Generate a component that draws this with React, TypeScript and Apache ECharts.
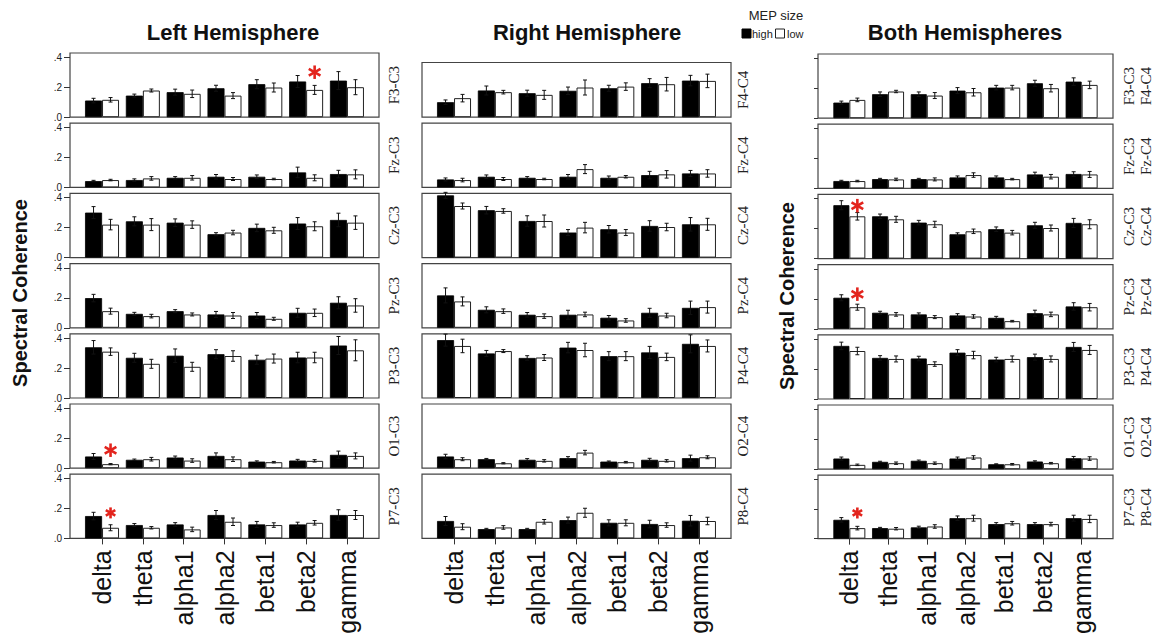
import React, { useEffect, useRef } from 'react';
import * as echarts from 'echarts';

// ---------------- data ----------------
const categories = ['delta', 'theta', 'alpha1', 'alpha2', 'beta1', 'beta2', 'gamma'];
const panelTitles = ['Left Hemisphere', 'Right Hemisphere', 'Both Hemispheres'];
const leftRows = ['F3-C3', 'Fz-C3', 'Cz-C3', 'Pz-C3', 'P3-C3', 'O1-C3', 'P7-C3'];
const rightRows = ['F4-C4', 'Fz-C4', 'Cz-C4', 'Pz-C4', 'P4-C4', 'O2-C4', 'P8-C4'];
const yTicks = [0, 0.2, 0.4];
const yTickLabels = ['.0', '.2', '.4'];
const seriesNames = ['high', 'low'];

const leftHigh = [
  [0.111, 0.144, 0.167, 0.193, 0.220, 0.238, 0.244],
  [0.042, 0.049, 0.064, 0.071, 0.071, 0.100, 0.089],
  [0.300, 0.242, 0.233, 0.156, 0.198, 0.227, 0.251],
  [0.198, 0.093, 0.111, 0.089, 0.082, 0.100, 0.167],
  [0.338, 0.268, 0.282, 0.292, 0.255, 0.270, 0.350],
  [0.078, 0.056, 0.071, 0.082, 0.044, 0.051, 0.089],
  [0.149, 0.089, 0.093, 0.156, 0.093, 0.093, 0.156],
];
const leftHighErr = [
  [0.015, 0.010, 0.020, 0.020, 0.030, 0.040, 0.060],
  [0.005, 0.008, 0.008, 0.015, 0.012, 0.035, 0.025],
  [0.040, 0.030, 0.025, 0.010, 0.025, 0.040, 0.045],
  [0.025, 0.010, 0.010, 0.020, 0.020, 0.030, 0.040],
  [0.045, 0.030, 0.045, 0.030, 0.030, 0.035, 0.060],
  [0.020, 0.005, 0.010, 0.020, 0.005, 0.008, 0.025],
  [0.025, 0.010, 0.012, 0.030, 0.020, 0.015, 0.035],
];
const leftLow = [
  [0.116, 0.178, 0.156, 0.144, 0.198, 0.182, 0.200],
  [0.049, 0.060, 0.064, 0.056, 0.056, 0.064, 0.087],
  [0.220, 0.220, 0.220, 0.167, 0.182, 0.209, 0.233],
  [0.111, 0.078, 0.089, 0.082, 0.060, 0.100, 0.149],
  [0.309, 0.228, 0.208, 0.280, 0.263, 0.270, 0.318],
  [0.027, 0.060, 0.051, 0.060, 0.040, 0.049, 0.082],
  [0.071, 0.071, 0.060, 0.111, 0.089, 0.104, 0.156],
];
const leftLowErr = [
  [0.015, 0.010, 0.025, 0.020, 0.030, 0.030, 0.050],
  [0.005, 0.012, 0.015, 0.010, 0.005, 0.020, 0.030],
  [0.035, 0.040, 0.025, 0.015, 0.020, 0.030, 0.045],
  [0.020, 0.012, 0.010, 0.020, 0.010, 0.025, 0.045],
  [0.025, 0.030, 0.030, 0.035, 0.030, 0.035, 0.070],
  [0.004, 0.012, 0.012, 0.015, 0.005, 0.008, 0.020],
  [0.020, 0.008, 0.015, 0.025, 0.015, 0.015, 0.030],
];

const rightHigh = [
  [0.100, 0.178, 0.160, 0.176, 0.193, 0.227, 0.244],
  [0.053, 0.071, 0.064, 0.071, 0.064, 0.082, 0.093],
  [0.415, 0.316, 0.244, 0.167, 0.189, 0.211, 0.222],
  [0.216, 0.120, 0.087, 0.087, 0.067, 0.100, 0.133],
  [0.386, 0.297, 0.267, 0.336, 0.279, 0.304, 0.361],
  [0.078, 0.060, 0.056, 0.067, 0.044, 0.056, 0.067],
  [0.116, 0.062, 0.062, 0.122, 0.104, 0.096, 0.118],
];
const rightHighErr = [
  [0.015, 0.030, 0.020, 0.025, 0.020, 0.030, 0.035],
  [0.010, 0.012, 0.008, 0.015, 0.012, 0.025, 0.020],
  [0.020, 0.025, 0.035, 0.020, 0.025, 0.035, 0.045],
  [0.050, 0.020, 0.015, 0.030, 0.015, 0.030, 0.045],
  [0.040, 0.020, 0.015, 0.035, 0.030, 0.040, 0.060],
  [0.015, 0.005, 0.008, 0.010, 0.004, 0.010, 0.020],
  [0.030, 0.005, 0.005, 0.020, 0.020, 0.025, 0.035],
];
const rightLow = [
  [0.127, 0.167, 0.149, 0.198, 0.204, 0.220, 0.242],
  [0.049, 0.056, 0.056, 0.122, 0.071, 0.087, 0.093],
  [0.344, 0.311, 0.244, 0.200, 0.167, 0.204, 0.222],
  [0.176, 0.111, 0.078, 0.089, 0.049, 0.082, 0.138],
  [0.347, 0.313, 0.270, 0.320, 0.279, 0.274, 0.347],
  [0.060, 0.033, 0.049, 0.104, 0.040, 0.049, 0.073],
  [0.078, 0.073, 0.111, 0.171, 0.104, 0.089, 0.116],
];
const rightLowErr = [
  [0.025, 0.012, 0.030, 0.050, 0.025, 0.045, 0.045],
  [0.012, 0.010, 0.005, 0.030, 0.008, 0.025, 0.025],
  [0.020, 0.015, 0.040, 0.035, 0.020, 0.025, 0.040],
  [0.030, 0.015, 0.015, 0.015, 0.012, 0.015, 0.040],
  [0.045, 0.010, 0.020, 0.045, 0.030, 0.025, 0.040],
  [0.010, 0.004, 0.008, 0.015, 0.005, 0.008, 0.010],
  [0.020, 0.012, 0.015, 0.030, 0.020, 0.015, 0.025],
];

const bothHigh = [
  [0.104, 0.160, 0.160, 0.184, 0.204, 0.233, 0.244],
  [0.049, 0.062, 0.062, 0.073, 0.073, 0.093, 0.096],
  [0.356, 0.282, 0.240, 0.162, 0.196, 0.222, 0.238],
  [0.207, 0.107, 0.096, 0.089, 0.073, 0.104, 0.149],
  [0.354, 0.274, 0.270, 0.309, 0.263, 0.279, 0.347],
  [0.071, 0.049, 0.056, 0.071, 0.033, 0.051, 0.073],
  [0.127, 0.071, 0.076, 0.138, 0.098, 0.098, 0.138],
];
const bothHighErr = [
  [0.010, 0.015, 0.015, 0.020, 0.015, 0.020, 0.025],
  [0.005, 0.005, 0.005, 0.010, 0.010, 0.015, 0.015],
  [0.030, 0.015, 0.015, 0.010, 0.015, 0.020, 0.030],
  [0.020, 0.010, 0.010, 0.012, 0.010, 0.020, 0.025],
  [0.025, 0.015, 0.015, 0.020, 0.015, 0.020, 0.030],
  [0.010, 0.004, 0.005, 0.010, 0.003, 0.005, 0.012],
  [0.015, 0.005, 0.008, 0.015, 0.010, 0.010, 0.020],
];
const bothLow = [
  [0.122, 0.178, 0.151, 0.173, 0.204, 0.200, 0.222],
  [0.049, 0.060, 0.060, 0.089, 0.062, 0.078, 0.093],
  [0.282, 0.262, 0.229, 0.182, 0.173, 0.204, 0.229],
  [0.144, 0.096, 0.078, 0.082, 0.051, 0.096, 0.144],
  [0.320, 0.267, 0.233, 0.293, 0.267, 0.267, 0.327],
  [0.029, 0.040, 0.040, 0.078, 0.033, 0.040, 0.071],
  [0.071, 0.067, 0.082, 0.138, 0.104, 0.098, 0.133],
];
const bothLowErr = [
  [0.012, 0.008, 0.020, 0.025, 0.015, 0.025, 0.025],
  [0.005, 0.008, 0.010, 0.015, 0.005, 0.015, 0.020],
  [0.025, 0.020, 0.020, 0.015, 0.015, 0.020, 0.030],
  [0.020, 0.012, 0.010, 0.012, 0.005, 0.015, 0.025],
  [0.025, 0.020, 0.015, 0.025, 0.020, 0.020, 0.030],
  [0.005, 0.008, 0.008, 0.012, 0.005, 0.005, 0.012],
  [0.012, 0.008, 0.012, 0.020, 0.012, 0.012, 0.025],
];

// significance marks: [panel, row, category index, y value]
const asteriskMarks = [
  [0, 0, 5, 0.30],
  [0, 5, 0, 0.12],
  [0, 6, 0, 0.17],
  [2, 2, 0, 0.353],
  [2, 3, 0, 0.231],
  [2, 6, 0, 0.173],
];

// ---------------- layout & style ----------------
const W = 1153;
const H = 637;
const panelX = [70, 422, 818];
const panelW = [309, 309, 295];
const panelTop = [53, 53, 54];
const barW = [17, 17, 16];
const xPad = [0.785, 0.785, 0.81];
const rowPitch = 70.2;
const rowH = 64.2;
const pxPerUnit = 150;
const rightFirstRowTop = 62.5;
const FONT = 'Liberation Sans';

const panelData = [
  { high: leftHigh, highErr: leftHighErr, low: leftLow, lowErr: leftLowErr },
  { high: rightHigh, highErr: rightHighErr, low: rightLow, lowErr: rightLowErr },
  { high: bothHigh, highErr: bothHighErr, low: bothLow, lowErr: bothLowErr },
];

function buildOption() {
  const grid: any[] = [];
  const xAxis: any[] = [];
  const yAxis: any[] = [];
  const series: any[] = [];
  const graphic: any[] = [];
  const catIdx = categories.map((_, i) => i);

  for (let p = 0; p < 3; p++) {
    const d = panelData[p];
    const bw = barW[p];
    for (let r = 0; r < 7; r++) {
      let top = panelTop[p] + rowPitch * r;
      let height = rowH;
      if (p === 1 && r === 0) {
        height = top + rowH - rightFirstRowTop;
        top = rightFirstRowTop;
      }
      const ymax = height / pxPerUnit;
      const k = grid.length;
      const isBottom = r === 6;
      const visTicks = yTicks.filter((t) => t <= ymax);
      grid.push({
        left: panelX[p],
        top,
        width: panelW[p],
        height,
        show: true,
        borderColor: '#444',
        borderWidth: 1.2,
        backgroundColor: 'transparent',
      });
      xAxis.push({
        type: 'value',
        gridIndex: k,
        min: -xPad[p],
        max: 6 + xPad[p],
        axisLine: { show: false, onZero: false },
        splitLine: { show: false },
        axisTick: {
          show: isBottom,
          customValues: catIdx,
          length: 6,
          lineStyle: { color: '#333', width: 1 },
        },
        axisLabel: {
          show: isBottom,
          customValues: catIdx,
          formatter: (v: number) => categories[Math.round(v)] ?? '',
          rotate: 90,
          fontSize: 25,
          fontFamily: FONT,
          color: '#111',
          margin: 12,
        },
      });
      yAxis.push({
        type: 'value',
        gridIndex: k,
        min: 0,
        max: ymax,
        axisLine: { show: false, onZero: false },
        splitLine: { show: false },
        axisTick: {
          show: p !== 1,
          customValues: visTicks,
          length: p === 0 ? 6 : 4,
          lineStyle: { color: '#333', width: 1 },
        },
        axisLabel: {
          show: p === 0,
          customValues: visTicks,
          formatter: (v: number) => {
            const i = yTicks.findIndex((t) => Math.abs(t - v) < 1e-6);
            return i >= 0 ? yTickLabels[i] : '';
          },
          fontSize: 10,
          fontFamily: FONT,
          color: '#222',
          margin: 8,
        },
      });

      const sets = [
        { vals: d.high[r], errs: d.highErr[r], side: -1 },
        { vals: d.low[r], errs: d.lowErr[r], side: 1 },
      ];
      sets.forEach((s, si) => {
        series.push({
          type: 'bar',
          name: seriesNames[si],
          xAxisIndex: k,
          yAxisIndex: k,
          barWidth: bw,
          barGap: '0%',
          data: catIdx.map((i) => [i, s.vals[i]]),
          itemStyle:
            si === 0
              ? { color: '#000', borderColor: '#000', borderWidth: 0.8 }
              : { color: '#fff', borderColor: '#222', borderWidth: 1 },
          silent: true,
          z: 2,
        });
      });
      series.push({
        type: 'custom',
        xAxisIndex: k,
        yAxisIndex: k,
        silent: true,
        z: 3,
        data: sets.flatMap((s) => catIdx.map((i) => [i, s.vals[i], s.errs[i], s.side])),
        renderItem: (params: any, api: any) => {
          const x = api.value(0);
          const v = api.value(1);
          const e = api.value(2);
          const side = api.value(3);
          const t = api.coord([x, v + e]);
          const b = api.coord([x, Math.max(0, v - e)]);
          const cx = t[0] + (side * bw) / 2;
          const st = { stroke: '#111', lineWidth: 1 };
          return {
            type: 'group',
            children: [
              { type: 'line', shape: { x1: cx, y1: t[1], x2: cx, y2: b[1] }, style: st },
              { type: 'line', shape: { x1: cx - 2, y1: t[1], x2: cx + 2, y2: t[1] }, style: st },
              { type: 'line', shape: { x1: cx - 2, y1: b[1], x2: cx + 2, y2: b[1] }, style: st },
            ],
          };
        },
      });

      const marks = asteriskMarks.filter((m) => m[0] === p && m[1] === r);
      if (marks.length) {
        const size = r === 6 ? 11 : 13.5;
        series.push({
          type: 'custom',
          xAxisIndex: k,
          yAxisIndex: k,
          silent: true,
          z: 4,
          data: marks.map((m) => [m[2], m[3]]),
          renderItem: (params: any, api: any) => {
            const c = api.coord([api.value(0), api.value(1)]);
            const cx = c[0] + bw / 2;
            const cy = c[1];
            const rr = size / 2;
            const st = { stroke: '#e3241d', lineWidth: 2.6, lineCap: 'butt' };
            const ang = [Math.PI / 2, Math.PI / 6, -Math.PI / 6];
            return {
              type: 'group',
              children: ang.map((a) => ({
                type: 'line',
                shape: {
                  x1: cx - rr * Math.cos(a),
                  y1: cy - rr * Math.sin(a),
                  x2: cx + rr * Math.cos(a),
                  y2: cy + rr * Math.sin(a),
                },
                style: st,
              })),
            };
          },
        });
      }

      // row labels
      const cy = top + height / 2;
      if (p === 0) {
        graphic.push(rowLabel(leftRows[r], 394, cy));
      } else if (p === 1) {
        graphic.push(rowLabel(rightRows[r], 743, cy));
      } else {
        graphic.push(rowLabel(leftRows[r], 1129, cy));
        graphic.push(rowLabel(rightRows[r], 1146, cy));
      }
    }
  }

  // titles
  const titleX = [233, 587, 965];
  panelTitles.forEach((t, i) => {
    graphic.push({
      type: 'text',
      x: titleX[i],
      y: 32,
      style: {
        text: t,
        fontFamily: FONT,
        fontSize: 22,
        fontWeight: 'bold',
        fill: '#111',
        align: 'center',
        verticalAlign: 'middle',
      },
    });
  });

  // y-axis names
  [
    [20, 293],
    [787, 296],
  ].forEach(([x, y]) => {
    graphic.push({
      type: 'text',
      x,
      y,
      rotation: Math.PI / 2,
      style: {
        text: 'Spectral Coherence',
        fontFamily: FONT,
        fontSize: 20,
        fontWeight: 'bold',
        fill: '#111',
        align: 'center',
        verticalAlign: 'middle',
      },
    });
  });

  // legend
  graphic.push({
    type: 'text',
    x: 776,
    y: 15,
    style: { text: 'MEP size', fontFamily: FONT, fontSize: 13, fill: '#222', align: 'center', verticalAlign: 'middle' },
  });
  graphic.push({ type: 'rect', shape: { x: 742, y: 29, width: 9, height: 9 }, style: { fill: '#000', stroke: '#000', lineWidth: 1 } });
  graphic.push({
    type: 'text',
    x: 752,
    y: 34,
    style: { text: seriesNames[0], fontFamily: FONT, fontSize: 11, fill: '#222', align: 'left', verticalAlign: 'middle' },
  });
  graphic.push({ type: 'rect', shape: { x: 775.5, y: 29, width: 9, height: 9 }, style: { fill: '#fff', stroke: '#222', lineWidth: 1 } });
  graphic.push({
    type: 'text',
    x: 787,
    y: 34,
    style: { text: seriesNames[1], fontFamily: FONT, fontSize: 11, fill: '#222', align: 'left', verticalAlign: 'middle' },
  });

  return {
    animation: false,
    backgroundColor: '#fff',
    textStyle: { fontFamily: FONT },
    grid,
    xAxis,
    yAxis,
    series,
    graphic,
  };
}

function rowLabel(text: string, x: number, y: number) {
  return {
    type: 'text',
    x,
    y,
    rotation: Math.PI / 2,
    style: {
      text,
      fontFamily: 'Liberation Serif',
      fontSize: 15,
      fill: '#222',
      align: 'center',
      verticalAlign: 'middle',
    },
  };
}

export default function App() {
  const ref = useRef<HTMLDivElement>(null);
  useEffect(() => {
    if (!ref.current) return;
    const chart = echarts.init(ref.current, null, { renderer: 'svg' });
    chart.setOption(buildOption() as any);
    return () => chart.dispose();
  }, []);
  return (
    <div
      ref={ref}
      style={{ position: 'fixed', left: 0, top: 0, width: W, height: H, background: '#fff' }}
    />
  );
}
